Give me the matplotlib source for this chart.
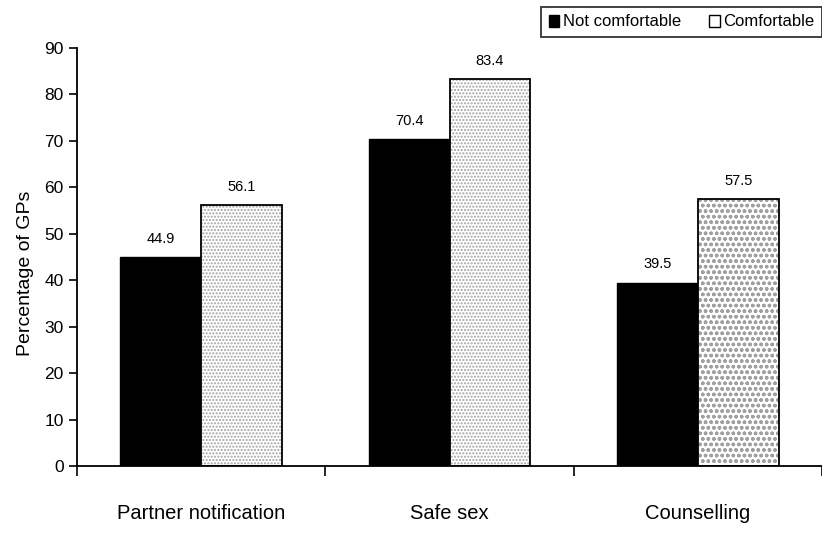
import matplotlib.pyplot as plt
import numpy as np

plt.rcParams['font.family'] = ['Liberation Sans', 'DejaVu Sans']
plt.rcParams['hatch.linewidth'] = 1.0

categories = ["Partner notification", "Safe sex", "Counselling"]
not_comfortable = [44.9, 70.4, 39.5]
comfortable = [56.1, 83.4, 57.5]
series_names = ["Not comfortable", "Comfortable"]

fig = plt.figure(figsize=(8.22, 5.39), dpi=100)
ax = fig.add_axes([0.0937, 0.1354, 0.9063, 0.7755])

x = np.arange(len(categories))
w = 0.325

ax.bar(x - w / 2, not_comfortable, w, color='black', edgecolor='black', linewidth=1)
# speckled fill for the "comfortable" bars
hatches = ['.....', '.....', 'ooo']
for xi, v, h in zip(x, comfortable, hatches):
    ax.bar(xi + w / 2, v, w, color='white', edgecolor='#a0a0a0', hatch=h, linewidth=0)
ax.bar(x + w / 2, comfortable, w, color='none', edgecolor='black', linewidth=1.3)

for xi, v in zip(x, not_comfortable):
    ax.text(xi - w / 2, v + 3.9, f"{v:.1f}", ha='center', va='center', fontsize=10.5)
for xi, v in zip(x, comfortable):
    ax.text(xi + w / 2, v + 3.9, f"{v:.1f}", ha='center', va='center', fontsize=10.5)

ax.set_xlim(-0.5, 2.48)
ax.set_ylim(0, 90)
ax.set_yticks(range(0, 91, 10))
ax.tick_params(axis='y', labelsize=12.5, direction='out', length=6, width=1.2)
ax.set_xticks([-0.5, 0.5, 1.5, 2.5])
ax.set_xticklabels([])
ax.set_xticks(x, minor=True)
ax.set_xticklabels(categories, minor=True, fontsize=14.5)
ax.tick_params(axis='x', which='major', direction='out', length=7, width=1.2)
ax.tick_params(axis='x', which='minor', length=0, pad=27)
ax.set_ylabel("Percentage of GPs", fontsize=14, labelpad=14)
ax.yaxis.set_label_coords(-0.058, 0.46)

for s in ['top', 'right']:
    ax.spines[s].set_visible(False)
for s in ['left', 'bottom']:
    ax.spines[s].set_linewidth(1.3)

handles = [plt.Rectangle((0, 0), 1, 1, facecolor='black', edgecolor='black'),
           plt.Rectangle((0, 0), 1, 1, facecolor='white', edgecolor='black')]
leg = fig.legend(handles, series_names, loc='upper left', bbox_to_anchor=(541 / 822, 1 - 7 / 539),
                 ncol=2, fontsize=12, frameon=True, fancybox=False, edgecolor='black',
                 handlelength=0.65, handleheight=0.75, handletextpad=0.2, columnspacing=1.7,
                 borderpad=0.45, borderaxespad=0)
leg.get_frame().set_linewidth(1.3)

fig.savefig("out.png", dpi=100)
